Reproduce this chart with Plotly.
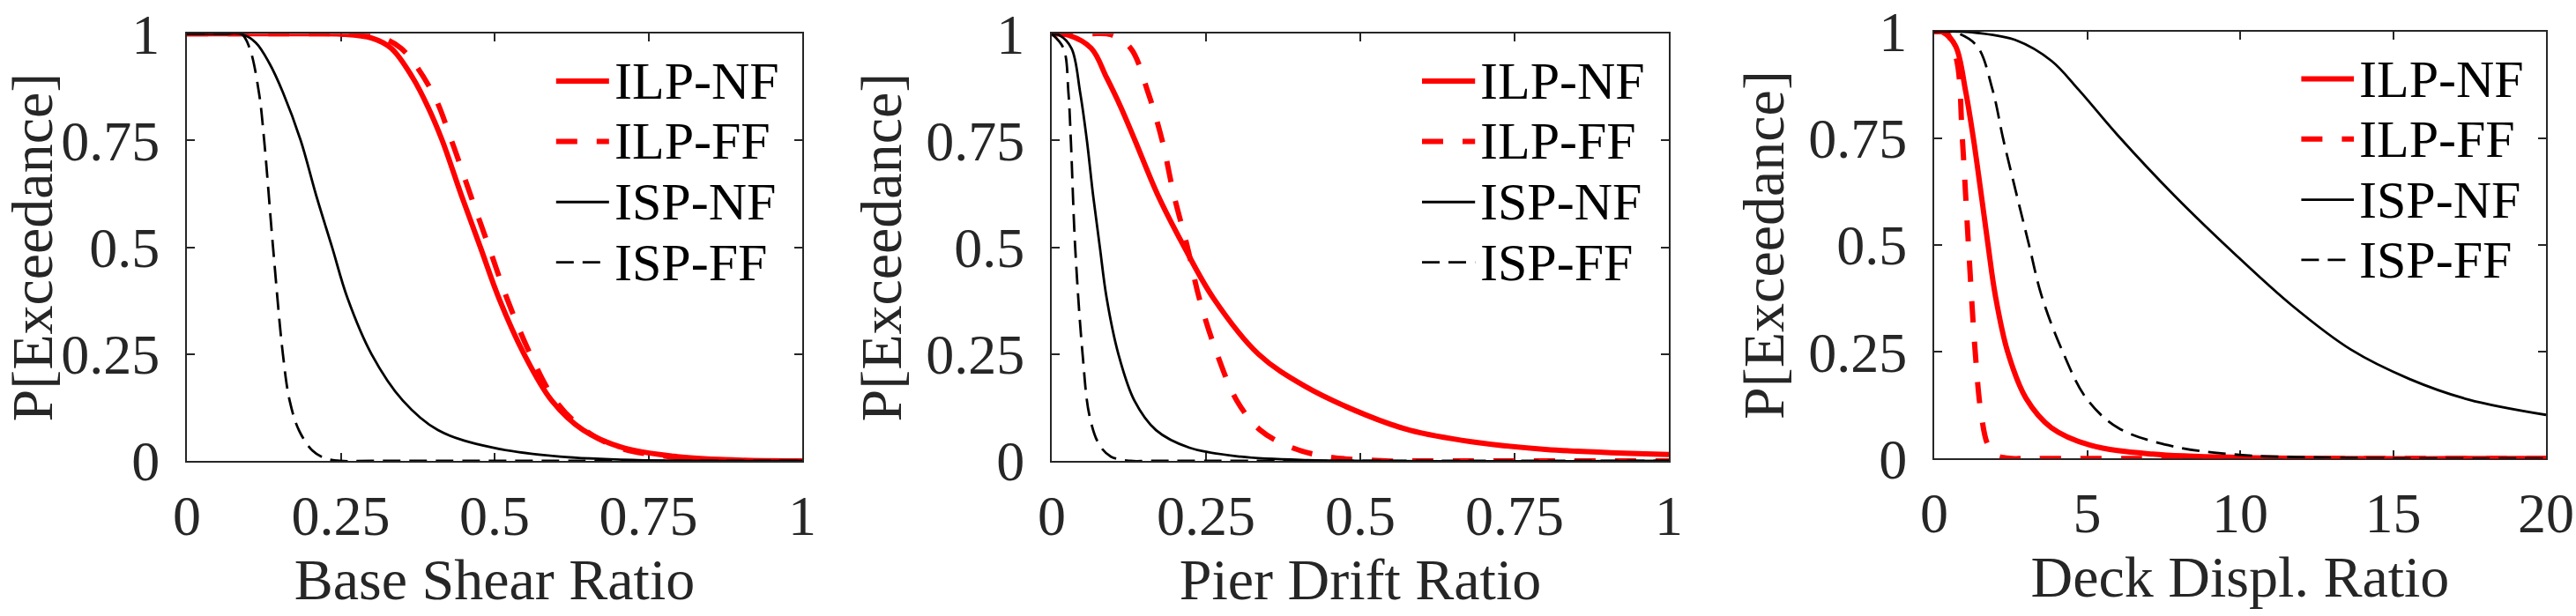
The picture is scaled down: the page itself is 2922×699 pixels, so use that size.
import plotly.graph_objects as go

# ---------------- data ----------------
# Panel 1: Base Shear Ratio
bs_ilp_nf_x = [0, 0.20, 0.25, 0.30, 0.332, 0.367, 0.392, 0.415, 0.446, 0.477, 0.507, 0.548, 0.593, 0.644, 0.708, 0.797, 0.893, 1.0]
bs_ilp_nf_y = [1, 1.0, 0.999, 0.99, 0.966, 0.897, 0.828, 0.75, 0.622, 0.5, 0.381, 0.25, 0.141, 0.072, 0.031, 0.010, 0.002, 0]
bs_ilp_ff_x = [0, 0.22, 0.268, 0.31, 0.348, 0.399, 0.430, 0.461, 0.491, 0.520, 0.558, 0.599, 0.647, 0.702, 0.784, 0.893, 1.0]
bs_ilp_ff_y = [1, 1.0, 0.999, 0.993, 0.966, 0.863, 0.75, 0.622, 0.5, 0.381, 0.25, 0.141, 0.072, 0.031, 0.010, 0.001, 0]
bs_isp_nf_x = [0, 0.06, 0.089, 0.112, 0.134, 0.156, 0.185, 0.210, 0.236, 0.261, 0.300, 0.351, 0.408, 0.497, 0.606, 0.733, 1.0]
bs_isp_nf_y = [1, 1.0, 0.999, 0.979, 0.931, 0.863, 0.75, 0.622, 0.5, 0.381, 0.25, 0.141, 0.072, 0.031, 0.010, 0.002, 0]
bs_isp_ff_x = [0, 0.06, 0.089, 0.102, 0.117, 0.1256, 0.140, 0.156, 0.167, 0.182, 0.204, 0.223, 0.249, 0.30, 1.0]
bs_isp_ff_y = [1, 1.0, 0.999, 0.966, 0.863, 0.75, 0.5, 0.25, 0.141, 0.072, 0.024, 0.007, 0.0, 0.0, 0]

# Panel 2: Pier Drift Ratio
pd_ilp_nf_x = [0, 0.026, 0.064, 0.089, 0.112, 0.135, 0.172, 0.215, 0.262, 0.335, 0.41, 0.51, 0.58, 0.68, 0.80, 1.0]
pd_ilp_nf_y = [1, 0.997, 0.966, 0.897, 0.828, 0.75, 0.622, 0.5, 0.381, 0.25, 0.175, 0.107, 0.072, 0.045, 0.027, 0.015]
pd_ilp_ff_x = [0, 0.06, 0.096, 0.128, 0.156, 0.179, 0.198, 0.220, 0.239, 0.268, 0.300, 0.338, 0.389, 0.446, 0.542, 0.60, 1.0]
pd_ilp_ff_y = [1, 1.0, 0.998, 0.966, 0.863, 0.75, 0.622, 0.5, 0.381, 0.25, 0.141, 0.072, 0.031, 0.010, 0.0, 0.0, 0]
pd_isp_nf_x = [0, 0.012, 0.032, 0.046, 0.057, 0.067, 0.078, 0.089, 0.108, 0.134, 0.169, 0.223, 0.306, 0.415, 1.0]
pd_isp_nf_y = [1, 0.997, 0.966, 0.863, 0.75, 0.622, 0.5, 0.381, 0.25, 0.141, 0.072, 0.031, 0.010, 0.002, 0]
pd_isp_ff_x = [0, 0.019, 0.027, 0.031, 0.038, 0.050, 0.061, 0.077, 0.096, 0.128, 0.16, 1.0]
pd_isp_ff_y = [1, 0.966, 0.863, 0.75, 0.5, 0.25, 0.107, 0.038, 0.010, 0.0, 0.0, 0]

# Panel 3: Deck Displ. Ratio
dd_ilp_nf_x = [0, 0.15, 0.30, 0.70, 1.02, 1.28, 1.53, 1.76, 2.0, 2.4, 3.0, 3.83, 5.10, 7.14, 10.2, 20]
dd_ilp_nf_y = [1, 1.0, 0.998, 0.966, 0.863, 0.75, 0.622, 0.5, 0.381, 0.25, 0.141, 0.072, 0.031, 0.010, 0.002, 0]
dd_ilp_ff_x = [0, 0.25, 0.40, 0.74, 0.92, 1.12, 1.34, 1.53, 1.76, 2.04, 2.55, 3.0, 20]
dd_ilp_ff_y = [1, 1.0, 0.998, 0.931, 0.75, 0.5, 0.25, 0.107, 0.031, 0.007, 0.0, 0.0, 0]
dd_isp_nf_x = [0, 0.8, 1.4, 2.7, 3.84, 4.73, 6.0, 7.86, 9.78, 11.70, 13.62, 15.54, 17.46, 20]
dd_isp_nf_y = [1, 1.0, 0.997, 0.979, 0.931, 0.863, 0.757, 0.615, 0.482, 0.358, 0.255, 0.186, 0.138, 0.102]
dd_isp_ff_x = [0, 0.4, 0.7, 1.40, 1.91, 2.25, 2.68, 3.10, 3.51, 4.20, 4.97, 6.0, 7.65, 9.69, 12.76, 20]
dd_isp_ff_y = [1, 1.0, 0.998, 0.966, 0.863, 0.75, 0.622, 0.5, 0.381, 0.25, 0.141, 0.072, 0.031, 0.010, 0.002, 0]

series_names = ["ILP-NF", "ILP-FF", "ISP-NF", "ISP-FF"]
x_titles = ["Base Shear Ratio", "Pier Drift Ratio", "Deck Displ. Ratio"]
y_title = "P[Exceedance]"
x_tickvals = [[0, 0.25, 0.5, 0.75, 1], [0, 0.25, 0.5, 0.75, 1], [0, 5, 10, 15, 20]]
x_ticktext = [["0", "0.25", "0.5", "0.75", "1"], ["0", "0.25", "0.5", "0.75", "1"], ["0", "5", "10", "15", "20"]]
x_ranges = [[0, 1], [0, 1], [0, 20]]
y_tickvals = [0, 0.25, 0.5, 0.75, 1]
y_ticktext = ["0", "0.25", "0.5", "0.75", "1"]

panel_data = [
    [(bs_ilp_nf_x, bs_ilp_nf_y), (bs_ilp_ff_x, bs_ilp_ff_y), (bs_isp_nf_x, bs_isp_nf_y), (bs_isp_ff_x, bs_isp_ff_y)],
    [(pd_ilp_nf_x, pd_ilp_nf_y), (pd_ilp_ff_x, pd_ilp_ff_y), (pd_isp_nf_x, pd_isp_nf_y), (pd_isp_ff_x, pd_isp_ff_y)],
    [(dd_ilp_nf_x, dd_ilp_nf_y), (dd_ilp_ff_x, dd_ilp_ff_y), (dd_isp_nf_x, dd_isp_nf_y), (dd_isp_ff_x, dd_isp_ff_y)],
]

# ---------------- styling ----------------
W, H = 2922, 699
RED = "#FF0000"
BLK = "#000000"
AX = "#262626"
FONT = "Liberation Serif, Times New Roman, serif"
styles = [
    dict(color=RED, width=6, dash="solid"),
    dict(color=RED, width=6, dash="24px,22px"),
    dict(color=BLK, width=2.8, dash="solid"),
    dict(color=BLK, width=2.8, dash="20px,10px"),
]
x_domains = [[212 / W, 910 / W], [1193 / W, 1893 / W], [2194 / W, 2888 / W]]
y_domains = [[(H - 523) / H, (H - 38.3) / H], [(H - 523) / H, (H - 38.3) / H], [(H - 520.2) / H, (H - 35.8) / H]]

fig = go.Figure()
for p in range(3):
    xa = "x" if p == 0 else f"x{p+1}"
    ya = "y" if p == 0 else f"y{p+1}"
    for s in range(4):
        xs, ys = panel_data[p][s]
        fig.add_trace(go.Scatter(
            x=xs, y=ys, mode="lines", name=series_names[s], showlegend=False,
            line=dict(color=styles[s]["color"], width=styles[s]["width"], dash=styles[s]["dash"],
                      shape="spline", smoothing=1.0),
            xaxis=xa, yaxis=ya, cliponaxis=False,
        ))

layout = dict(
    width=W, height=H, autosize=False,
    margin=dict(l=0, r=0, t=0, b=0, pad=0),
    paper_bgcolor="white", plot_bgcolor="white",
    font=dict(family=FONT, color=AX, size=64),
    showlegend=False,
)
axis_common = dict(
    showline=True, linecolor=AX, linewidth=2, mirror="ticks",
    ticks="inside", ticklen=9, tickwidth=2, tickcolor=AX,
    showgrid=False, zeroline=False, layer="below traces", automargin=False,
    ticklabeloverflow="allow",
    tickfont=dict(family=FONT, size=64, color=AX),
)
for p in range(3):
    xk = "xaxis" if p == 0 else f"xaxis{p+1}"
    yk = "yaxis" if p == 0 else f"yaxis{p+1}"
    ya = "y" if p == 0 else f"y{p+1}"
    xa = "x" if p == 0 else f"x{p+1}"
    layout[xk] = dict(axis_common, domain=x_domains[p], range=x_ranges[p], anchor=ya,
                      tickmode="array", tickvals=x_tickvals[p], ticktext=x_ticktext[p],
                      ticklabelstandoff=5,
                      title=dict(text=x_titles[p], font=dict(family=FONT, size=66, color=AX), standoff=12))
    layout[yk] = dict(axis_common, domain=y_domains[p], range=[0, 1], anchor=xa,
                      tickmode="array", tickvals=y_tickvals, ticktext=y_ticktext,
                      ticklabelstandoff=16,
                      title=dict(text=y_title, font=dict(family=FONT, size=66, color=AX), standoff=6))
fig.update_layout(**layout)

# ---------------- legends (inside, top-right, no box) ----------------
leg_rows = [0.889, 0.748, 0.606, 0.465]
for p in range(3):
    xd = ("x" if p == 0 else f"x{p+1}") + " domain"
    yd = ("y" if p == 0 else f"y{p+1}") + " domain"
    for s in range(4):
        fig.add_shape(type="line", xref=xd, yref=yd, x0=0.600, x1=0.686,
                      y0=leg_rows[s], y1=leg_rows[s],
                      line=dict(color=styles[s]["color"], width=styles[s]["width"], dash=styles[s]["dash"]))
        fig.add_annotation(xref=xd, yref=yd, x=0.692, y=leg_rows[s], xanchor="left", yanchor="middle",
                           text=series_names[s], showarrow=False,
                           font=dict(family=FONT, size=60, color="#000000"))

fig.write_html("out.html", config={"displayModeBar": False},
               post_script="document.body.style.margin='0px';document.body.style.overflow='hidden';")
